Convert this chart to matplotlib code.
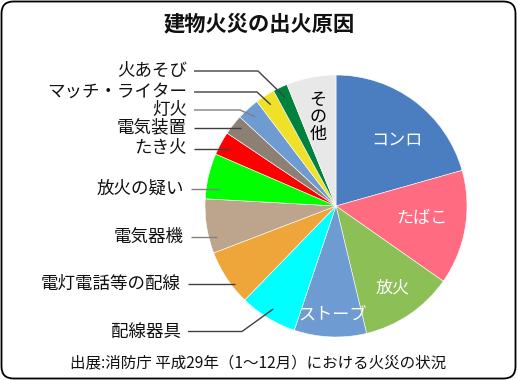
import matplotlib
matplotlib.use("Agg")
import matplotlib.pyplot as plt
from matplotlib.patches import FancyBboxPatch
import numpy as np

plt.rcParams['font.family'] = ['Noto Sans CJK JP', 'DejaVu Sans']

# ---- data (clockwise from 12 o'clock) ----
categories = ['コンロ', 'たばこ', '放火', 'ストーブ', '配線器具', '電灯電話等の配線',
              '電気器機', '放火の疑い', 'たき火', '電気装置', '灯火', 'マッチ・ライター',
              '火あそび', 'その他']
values = [20.6, 14.1, 11.5, 8.9, 7.1, 6.9, 6.7, 5.6, 2.9, 2.5, 2.8, 2.4, 1.8, 6.1]
colors = ['#4A7EC0', '#FF6B80', '#8DBF57', '#6E9BD1', '#00FFFF', '#EEA53A',
          '#BCA58C', '#00FF00', '#FF0000', '#8C7F73', '#6E9BD1', '#F0E02A',
          '#00823E', '#E8E8E8']

title = '建物火災の出火原因'
source = '出展:消防庁 平成29年（1〜12月）における火災の状況'

W, H = 517, 380
fig = plt.figure(figsize=(W / 100, H / 100), dpi=100)
ax = fig.add_axes([0, 0, 1, 1])

cx, cy, R = 336, H - 206, 131
wedges, _ = ax.pie(values, colors=colors, startangle=90, counterclock=False,
                   center=(cx, cy), radius=R,
                   wedgeprops=dict(edgecolor='white', linewidth=0.4))
ax.set_xlim(0, W)
ax.set_ylim(0, H)
ax.set_aspect('auto')
ax.axis('off')

# frame
frame = FancyBboxPatch((1.5, 1.5), W - 3, H - 3,
                       boxstyle="round,pad=0,rounding_size=12",
                       facecolor='none', edgecolor='black', linewidth=1.3,
                       zorder=0)
ax.add_patch(frame)

ax.text(259, H - 24, title, ha='center', va='center', fontsize=15.3,
        fontweight='bold', color='#111111')
ax.text(258, H - 364, source, ha='center', va='center', fontsize=11.2,
        color='#111111')

# inside labels (pixel positions, y from top)
inside = {'コンロ': (397, 140, 'white'), 'たばこ': (422, 218, 'white'),
          '放火': (393, 288, 'white'), 'ストーブ': (333, 316, 'white')}
for name, (x, y, c) in inside.items():
    ax.text(x, H - y, name, ha='center', va='center', fontsize=12.3, color=c)
ax.text(318, H - 117, 'そ\nの\n他', ha='center', va='center', fontsize=12.3,
        color='black', linespacing=0.95)

# outside labels with leader lines
outside = ['火あそび', 'マッチ・ライター', '灯火', '電気装置', 'たき火',
           '放火の疑い', '電気器機', '電灯電話等の配線', '配線器具']
label_y = [71, 92, 110, 127.5, 148.5, 188.5, 236.5, 283.5, 331.5]
line_x0 = [194, 194, 194, 194, 194, 191, 191, 188, 188]
knee_x = [258, 257, 240, None, None, None, None, None, 242]
line_col = ['#404040', '#404040', '#808080', '#404040', '#404040',
            '#808080', '#808080', '#404040', '#404040']

total = sum(values)
cum = np.cumsum([0] + values[:-1])
for name, ly, x0, kx, lc in zip(outside, label_y, line_x0, knee_x, line_col):
    i = categories.index(name)
    mid = (cum[i] + values[i] / 2) / total * 360  # clockwise from top
    rr = 0.92 * R
    px = cx + rr * np.sin(np.radians(mid))
    py = cy + rr * np.cos(np.radians(mid))
    yy = H - ly
    if kx is None:
        xs, ys = [x0, px], [yy, yy]
    else:
        xs, ys = [x0, kx, px], [yy, yy, py]
    ax.plot(xs, ys, color=lc, linewidth=1.0, solid_capstyle='butt')
    ax.text(x0 - 7, yy, name, ha='right', va='center', fontsize=12.6,
            color='#111111')

fig.savefig('out.png', dpi=100)
